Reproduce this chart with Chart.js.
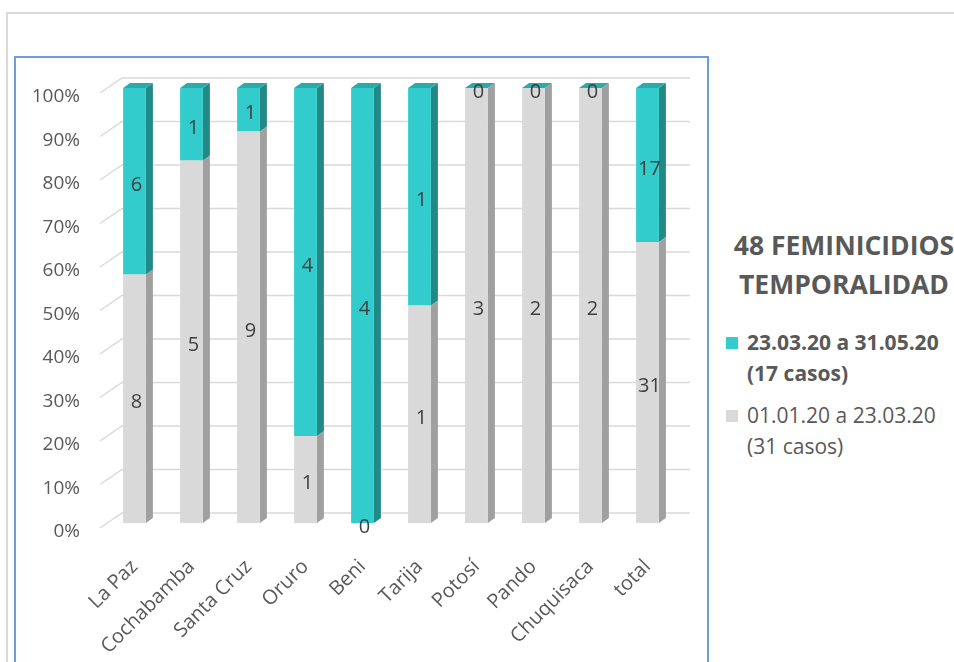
<!DOCTYPE html>
<html>
<head>
<meta charset="utf-8">
<script src="https://cdn.jsdelivr.net/npm/chart.js@4.4.0/dist/chart.umd.min.js"></script>
<style>
  body { margin: 0; background: #fff; width: 954px; height: 662px; overflow: hidden; position: relative; font-family: "Open Sans", sans-serif; }
  #frame { position: absolute; left: 6px; top: 12px; width: 960px; height: 660px; border-top: 2px solid #d9d9d9; border-left: 2px solid #d9d9d9; }
  #box { position: absolute; left: 14px; top: 56px; width: 691px; height: 620px; border: 2px solid #6a9fd8; }
  #feminChart { position: absolute; left: 15px; top: 57px; }
  #titulo { position: absolute; left: 724px; top: 226px; width: 240px; text-align: center; font-weight: bold; font-size: 26.5px; line-height: 39px; color: #595959; white-space: nowrap; }
  .item { position: absolute; left: 747px; font-size: 21px; line-height: 31px; color: #595959; white-space: nowrap; }
  .item .sq { position: absolute; left: -21px; top: 10px; width: 12px; height: 12px; }
</style>
</head>
<body>
<div id="frame"></div>
<div id="box"></div>
<canvas id="feminChart" width="692" height="605"></canvas>
<div id="titulo">48 FEMINICIDIOS<br>TEMPORALIDAD</div>
<div class="item" style="top:327px; font-weight:bold;"><span class="sq" style="background:#33cccc"></span>23.03.20 a 31.05.20<br>(17 casos)</div>
<div class="item" style="top:400px;"><span class="sq" style="background:#d9d9d9"></span>01.01.20 a 23.03.20<br>(31 casos)</div>
<script>
const departamentos = ['La Paz', 'Cochabamba', 'Santa Cruz', 'Oruro', 'Beni', 'Tarija', 'Potosí', 'Pando', 'Chuquisaca', 'total']
const casosAntes = [8, 5, 9, 1, 0, 1, 3, 2, 2, 31]     // 01.01.20 a 23.03.20
const casosDespues = [6, 1, 1, 4, 4, 1, 0, 0, 0, 17]   // 23.03.20 a 31.05.20
const colores = ['#d9d9d9', '#33cccc']
const coloresLado = ['#a0a0a0', '#218a87']
const coloresTapa = ['#e4e4e4', '#2aaaa8']

const totales = casosAntes.map((v, i) => v + casosDespues[i])
const pctAntes = casosAntes.map((v, i) => v / totales[i] * 100)
const pctDespues = casosDespues.map((v, i) => v / totales[i] * 100)
const casos = [casosAntes, casosDespues]

const dx = 7, dy = 5

// cara lateral, tapa y rejilla de fondo (efecto 3D)
const caras3d = {
  id: 'caras3d',
  beforeDatasetsDraw(chart) {
    const ctx = chart.ctx
    const ys = chart.scales.y
    const area = chart.chartArea
    ctx.save()
    ctx.strokeStyle = '#d9d9d9'
    ctx.lineWidth = 1.5
    ys.ticks.forEach(t => {
      const py = ys.getPixelForValue(t.value)
      ctx.beginPath()
      ctx.moveTo(area.left - 6, py + 5)
      ctx.lineTo(area.left + 16, py - 10)
      ctx.lineTo(area.right + 14, py - 10)
      ctx.stroke()
    })
    chart.data.datasets.forEach((ds, i) => {
      chart.getDatasetMeta(i).data.forEach(bar => {
        const p = bar.getProps(['x', 'y', 'base', 'width'], true)
        const l = p.x - p.width / 2, r = p.x + p.width / 2
        const top = Math.min(p.y, p.base), bot = Math.max(p.y, p.base)
        ctx.fillStyle = coloresLado[i]
        ctx.beginPath()
        ctx.moveTo(r, top)
        ctx.lineTo(r + dx, top - dy)
        ctx.lineTo(r + dx, bot - dy)
        ctx.lineTo(r, bot)
        ctx.closePath()
        ctx.fill()
        ctx.fillStyle = coloresTapa[i]
        ctx.beginPath()
        ctx.moveTo(l, top)
        ctx.lineTo(l + dx, top - dy)
        ctx.lineTo(r + dx, top - dy)
        ctx.lineTo(r, top)
        ctx.closePath()
        ctx.fill()
      })
    })
    ctx.restore()
  },
  afterDatasetsDraw(chart) {
    const ctx = chart.ctx
    ctx.save()
    ctx.font = '20px "Open Sans"'
    ctx.fillStyle = '#404040'
    ctx.textAlign = 'center'
    ctx.textBaseline = 'middle'
    chart.data.datasets.forEach((ds, i) => {
      chart.getDatasetMeta(i).data.forEach((bar, j) => {
        const p = bar.getProps(['x', 'y', 'base'], true)
        ctx.fillText(String(casos[i][j]), p.x + 2, (p.y + p.base) / 2 + 4)
      })
    })
    ctx.restore()
  }
}

new Chart(document.getElementById('feminChart'), {
  type: 'bar',
  data: {
    labels: departamentos,
    datasets: [
      { label: '01.01.20 a 23.03.20 (31 casos)', data: pctAntes, backgroundColor: colores[0] },
      { label: '23.03.20 a 31.05.20 (17 casos)', data: pctDespues, backgroundColor: colores[1] }
    ]
  },
  options: {
    responsive: false,
    devicePixelRatio: 1,
    animation: false,
    barPercentage: 0.4,
    categoryPercentage: 1,
    layout: { padding: { top: 31, right: 31, left: 0, bottom: 0 } },
    plugins: { legend: { display: false }, tooltip: { enabled: false } },
    scales: {
      x: {
        stacked: true,
        grid: { display: false, drawTicks: false },
        border: { display: false },
        ticks: { autoSkip: false, minRotation: 45, maxRotation: 45, padding: 32, color: '#595959', font: { family: 'Open Sans', size: 20 } },
        afterFit(s) { s.height = 139 }
      },
      y: {
        stacked: true,
        min: 0,
        max: 100,
        grid: { display: false, drawTicks: false },
        border: { display: false },
        ticks: { stepSize: 10, padding: 26, labelOffset: 9, color: '#595959', font: { family: 'Open Sans', size: 19 }, callback: v => v + '%' },
        afterFit(s) { s.width = 91; s.paddingTop = 0; s.paddingBottom = 0 }
      }
    }
  },
  plugins: [caras3d]
})
</script>
</body>
</html>
